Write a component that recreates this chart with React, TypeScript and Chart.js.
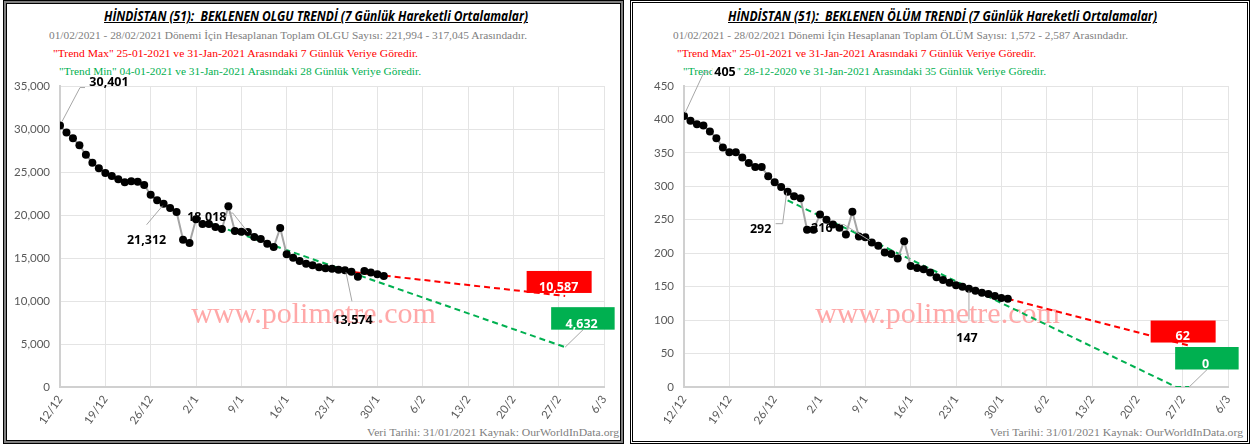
import React, { useEffect, useLayoutEffect, useRef } from "react";
import { Chart, registerables } from "chart.js";
Chart.register(...registerables);

// ---------- data ----------
const weekTickDays = [0, 7, 14, 21, 28, 35, 42, 49, 56, 63, 70, 77, 84];
const weekTickLabels = ["12/12", "19/12", "26/12", "2/1", "9/1", "16/1", "23/1", "30/1", "6/2", "13/2", "20/2", "27/2", "6/3"];

// 7-day moving average, 12/12/2020 .. 31/01/2021 (day index 0..50)
const caseValues = [
  30401, 29580, 28920, 28100, 27020, 26090, 25430, 24890, 24540, 24150,
  23800, 23920, 23880, 23490, 22360, 21710, 21312, 20820, 20350, 17130,
  16750, 19500, 18960, 18960, 18610, 18380, 21020, 18140, 18050, 18018,
  17450, 17210, 16670, 16280, 18490, 15430, 15040, 14650, 14340, 14150,
  13920, 13800, 13760, 13640, 13574, 13410, 12830, 13490, 13300, 13110,
  12900,
];
const deathValues = [
  405, 398, 393, 391, 382, 372, 358, 351, 351, 343,
  335, 329, 329, 315, 306, 299, 292, 285, 282, 235,
  235, 258, 250, 243, 238, 228, 262, 225, 224, 216,
  211, 201, 199, 192, 218, 181, 178, 176, 171, 164,
  160, 156, 152, 150, 147, 144, 141, 139, 136, 133,
  132,
];

const caseMaxDays = [44, 78];
const caseMaxValues = [13470, 10587];
const caseMinDays = [23, 78];
const caseMinValues = [19070, 4632];

const deathMaxDays = [44, 78];
const deathMaxValues = [147, 62];
const deathMinDays = [16, 76, 78];
const deathMinValues = [279, 0, 0];

// ---------- styling ----------
const FONT_SANS = "Lato, 'Open Sans', sans-serif";
const FONT_LABEL = "'Open Sans', Lato, sans-serif";
const FONT_SERIF = "'Liberation Serif', 'DejaVu Serif', serif";
const GRAY_TXT = "#808080";
const RED = "#FF0000";
const GREEN = "#00B050";

type LabelSpec = { idx: number; dx: number; dy: number; path: number[][]; bg?: boolean };

const caseLabels: LabelSpec[] = [
  { idx: 0, dx: 49, dy: -43, path: [[2, -4], [20, -38], [25, -38]] },
  { idx: 16, dx: -17, dy: 37, path: [[-1, 2], [-17, 21]] },
  { idx: 29, dx: -41, dy: -15, path: [[0, 0], [-15, -19], [-19, -19]] },
  { idx: 44, dx: 8, dy: 50, path: [[1, 2], [7, 31]] },
];
const deathLabels: LabelSpec[] = [
  { idx: 0, dx: 41, dy: -44, path: [[1, -3], [20, -44], [26, -44]], bg: true },
  { idx: 16, dx: -27, dy: 38, path: [[-1, 1], [-5, 32], [-12, 32]] },
  { idx: 29, dx: -50, dy: -14, path: [[-2, -2], [-28, -18], [-32, -18]] },
  { idx: 44, dx: -2, dy: 50, path: [[0, 2], [0, 31]] },
];

const fmt = (v: number) => Math.round(v).toLocaleString("en-US");

function makePlugin(labels: LabelSpec[]) {
  return {
    id: "trendLabels",
    beforeDatasetsDraw(chart: any) {
      const { ctx, chartArea } = chart;
      ctx.save();
      ctx.font = `30px ${FONT_SERIF}`;
      ctx.fillStyle = "#FFA8A8";
      ctx.textAlign = "center";
      ctx.textBaseline = "alphabetic";
      ctx.fillText("www.polimetre.com", (chartArea.left + chartArea.right) / 2 - 18.5, chartArea.top + 237);
      ctx.restore();
    },
    afterDatasetsDraw(chart: any) {
      const ctx = chart.ctx;
      ctx.save();
      const meta0 = chart.getDatasetMeta(0);
      const data0 = chart.data.datasets[0].data;
      ctx.font = `bold 12.5px ${FONT_LABEL}`;
      ctx.textAlign = "center";
      ctx.textBaseline = "middle";
      for (const l of labels) {
        const pt = meta0.data[l.idx];
        const v = data0[l.idx].y;
        ctx.strokeStyle = "#A6A6A6";
        ctx.lineWidth = 1;
        ctx.beginPath();
        l.path.forEach(([dx, dy], k) => (k ? ctx.lineTo(pt.x + dx, pt.y + dy) : ctx.moveTo(pt.x + dx, pt.y + dy)));
        ctx.stroke();
        const txt = fmt(v);
        if (l.bg) {
          const w = ctx.measureText(txt).width;
          ctx.fillStyle = "#fff";
          ctx.fillRect(pt.x + l.dx - w / 2 - 2, pt.y + l.dy - 8, w + 4, 16);
        }
        ctx.fillStyle = "#000";
        ctx.fillText(txt, pt.x + l.dx, pt.y + l.dy);
      }
      const boxes = [
        { ds: 1, color: RED, x1: -38.5, x2: 26.5, y1: -25, y2: -3, tx: -6.5, ty: -9, leader: null as any },
        { ds: 2, color: GREEN, x1: -14, x2: 49.5, y1: -40, y2: -17.5, tx: 16.5, ty: -22.5, leader: [[0, 0], [18, -17.5]] },
      ];
      for (const b of boxes) {
        const meta = chart.getDatasetMeta(b.ds);
        const data = chart.data.datasets[b.ds].data;
        const last = meta.data.length - 1;
        const pt = meta.data[last];
        const v = data[last].y;
        if (b.leader) {
          ctx.strokeStyle = "#A6A6A6";
          ctx.lineWidth = 1;
          ctx.beginPath();
          ctx.moveTo(pt.x + b.leader[0][0], pt.y + b.leader[0][1]);
          ctx.lineTo(pt.x + b.leader[1][0], pt.y + b.leader[1][1]);
          ctx.stroke();
        }
        ctx.fillStyle = b.color;
        ctx.fillRect(pt.x + b.x1, pt.y + b.y1, b.x2 - b.x1, b.y2 - b.y1);
        ctx.fillStyle = "#fff";
        ctx.fillText(fmt(v), pt.x + b.tx, pt.y + b.ty);
      }
      ctx.restore();
    },
  };
}

type Spec = {
  values: number[];
  maxDays: number[];
  maxValues: number[];
  minDays: number[];
  minValues: number[];
  yMax: number;
  yStep: number;
  yWidth: number;
  padRight: number;
  labels: LabelSpec[];
};

function buildConfig(spec: Spec): any {
  const tickFont = { family: FONT_SANS, size: 11.5 };
  return {
    type: "line",
    data: {
      datasets: [
        {
          data: spec.values.map((v, i) => ({ x: i, y: v })),
          borderColor: "#A5A5A5",
          borderWidth: 2,
          pointRadius: 4,
          pointBackgroundColor: "#000",
          pointBorderColor: "#000",
          pointBorderWidth: 0,
          tension: 0,
        },
        {
          data: spec.maxDays.map((d, i) => ({ x: d, y: spec.maxValues[i] })),
          borderColor: RED,
          borderWidth: 2,
          borderDash: [6, 4],
          pointRadius: 0,
          tension: 0,
        },
        {
          data: spec.minDays.map((d, i) => ({ x: d, y: spec.minValues[i] })),
          borderColor: GREEN,
          borderWidth: 2,
          borderDash: [6, 4],
          pointRadius: 0,
          tension: 0,
        },
      ],
    },
    options: {
      animation: false,
      responsive: false,
      maintainAspectRatio: false,
      layout: { padding: { top: 86, left: 0, right: spec.padRight, bottom: 0 } },
      plugins: { legend: { display: false }, tooltip: { enabled: false }, title: { display: false } },
      scales: {
        x: {
          type: "linear",
          min: 0,
          max: 84,
          afterBuildTicks: (s: any) => {
            s.ticks = weekTickDays.map((v) => ({ value: v }));
          },
          afterFit: (s: any) => {
            s.height = 59;
          },
          ticks: {
            callback: (v: number) => weekTickLabels[weekTickDays.indexOf(v)] ?? "",
            minRotation: 55,
            maxRotation: 55,
            color: "#595959",
            font: tickFont,
            padding: 6,
            autoSkip: false,
          },
          grid: { color: "#E4E4E4", lineWidth: 1, drawTicks: false },
          border: { color: "#D0D0D0", width: 2 },
        },
        y: {
          min: 0,
          max: spec.yMax,
          afterFit: (s: any) => {
            s.width = spec.yWidth;
          },
          ticks: {
            stepSize: spec.yStep,
            callback: (v: number) => fmt(v),
            color: "#595959",
            font: tickFont,
            padding: 10,
          },
          grid: { color: "#E4E4E4", lineWidth: 1, drawTicks: false },
          border: { color: "#D0D0D0", width: 2 },
        },
      },
    },
    plugins: [makePlugin(spec.labels)],
  };
}

function TrendChart({ spec, left, width }: { spec: Spec; left: number; width: number }) {
  const ref = useRef<HTMLCanvasElement>(null);
  useEffect(() => {
    const chart = new Chart(ref.current as HTMLCanvasElement, buildConfig(spec));
    return () => chart.destroy();
  }, []);
  return (
    <canvas
      ref={ref}
      width={width}
      height={446}
      style={{ position: "absolute", left, top: 0, width, height: 446, display: "block" }}
    />
  );
}

function FitText(props: {
  text: string;
  x1: number;
  x2: number;
  cy: number;
  size: number;
  color: string;
  family: string;
  bold?: boolean;
  italic?: boolean;
  underline?: boolean;
}) {
  const ref = useRef<HTMLSpanElement>(null);
  useLayoutEffect(() => {
    const el = ref.current;
    if (!el) return;
    el.style.transform = "none";
    const w = el.getBoundingClientRect().width;
    if (w > 0) el.style.transform = `scaleX(${(props.x2 - props.x1) / w})`;
  }, [props.text]);
  return (
    <span
      ref={ref}
      style={{
        position: "absolute",
        left: props.x1,
        top: props.cy - props.size * 0.6,
        fontSize: props.size,
        lineHeight: `${props.size * 1.2}px`,
        whiteSpace: "pre",
        transformOrigin: "0 0",
        color: props.color,
        fontFamily: props.family,
        fontWeight: props.bold ? 700 : 400,
        fontStyle: props.italic ? "italic" : "normal",
        textDecoration: props.underline ? "underline" : "none",
      }}
    >
      {props.text}
    </span>
  );
}

const caseSpec: Spec = {
  values: caseValues,
  maxDays: caseMaxDays,
  maxValues: caseMaxValues,
  minDays: caseMinDays,
  minValues: caseMinValues,
  yMax: 35000,
  yStep: 5000,
  yWidth: 60,
  padRight: 24,
  labels: caseLabels,
};
const deathSpec: Spec = {
  values: deathValues,
  maxDays: deathMaxDays,
  maxValues: deathMaxValues,
  minDays: deathMinDays,
  minValues: deathMinValues,
  yMax: 450,
  yStep: 50,
  yWidth: 56,
  padRight: 30,
  labels: deathLabels,
};

export default function App() {
  return (
    <div style={{ position: "fixed", left: 0, top: 0, width: 1258, height: 446, background: "#fff", overflow: "hidden" }}>
      {/* panel frames */}
      <div
        style={{
          position: "absolute",
          left: 3,
          top: 0,
          width: 621,
          height: 444,
          boxSizing: "border-box",
          border: "1px solid #000",
          boxShadow: "inset 0 0 0 2px #7f7f7f, inset 0 0 0 3px #000",
        }}
      />
      <div
        style={{
          position: "absolute",
          left: 630,
          top: 0,
          width: 620,
          height: 444,
          boxSizing: "border-box",
          border: "1px solid #000",
          boxShadow: "inset 0 0 0 1px #fff, inset 0 0 0 2px #000",
        }}
      />
      {/* left panel texts */}
      <FitText text="HİNDİSTAN (51):  BEKLENEN OLGU TRENDİ (7 Günlük Hareketli Ortalamalar)" x1={104} x2={528} cy={16} size={13.5} color="#000" family={FONT_LABEL} bold italic underline />
      <FitText text="01/02/2021 - 28/02/2021 Dönemi İçin Hesaplanan Toplam OLGU Sayısı: 221,994 - 317,045 Arasındadır." x1={49} x2={527} cy={36} size={11} color={GRAY_TXT} family={FONT_SERIF} />
      <FitText text={'"Trend Max" 25-01-2021 ve 31-Jan-2021 Arasındaki 7 Günlük Veriye Göredir.'} x1={53} x2={418} cy={54} size={11} color={RED} family={FONT_SERIF} />
      <FitText text={'"Trend Min" 04-01-2021 ve 31-Jan-2021 Arasındaki 28 Günlük Veriye Göredir.'} x1={59} x2={421} cy={72} size={11} color={GREEN} family={FONT_SERIF} />
      <FitText text="Veri Tarihi: 31/01/2021 Kaynak: OurWorldInData.org" x1={367} x2={619} cy={433} size={11} color={GRAY_TXT} family={FONT_SERIF} />
      {/* right panel texts */}
      <FitText text="HİNDİSTAN (51):  BEKLENEN ÖLÜM TRENDİ (7 Günlük Hareketli Ortalamalar)" x1={728} x2={1157} cy={16} size={13.5} color="#000" family={FONT_LABEL} bold italic underline />
      <FitText text="01/02/2021 - 28/02/2021 Dönemi İçin Hesaplanan Toplam ÖLÜM Sayısı: 1,572 - 2,587 Arasındadır." x1={673} x2={1128} cy={36} size={11} color={GRAY_TXT} family={FONT_SERIF} />
      <FitText text={'"Trend Max" 25-01-2021 ve 31-Jan-2021 Arasındaki 7 Günlük Veriye Göredir.'} x1={677} x2={1036} cy={54} size={11} color={RED} family={FONT_SERIF} />
      <FitText text={'"Trend Min" 28-12-2020 ve 31-Jan-2021 Arasındaki 35 Günlük Veriye Göredir.'} x1={683} x2={1046} cy={72} size={11} color={GREEN} family={FONT_SERIF} />
      <FitText text="Veri Tarihi: 31/01/2021 Kaynak: OurWorldInData.org" x1={990} x2={1243} cy={433} size={11} color={GRAY_TXT} family={FONT_SERIF} />
      {/* charts */}
      <TrendChart spec={caseSpec} left={0} width={628} />
      <TrendChart spec={deathSpec} left={628} width={630} />
    </div>
  );
}
